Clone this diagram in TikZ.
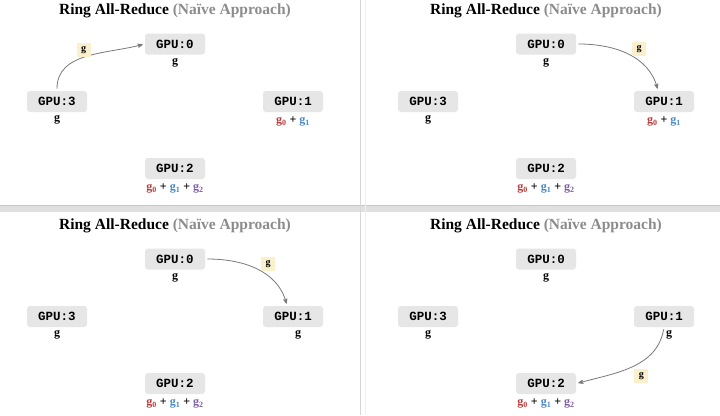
\documentclass[tikz,border=0pt]{standalone}
\usepackage{fontspec}
\setmainfont{Liberation Serif}
\newfontfamily\gpufont{Liberation Mono}
\usetikzlibrary{arrows}
\definecolor{boxgray}{HTML}{E6E6E6}
\definecolor{titlegray}{HTML}{8C8C8C}
\definecolor{arrowgray}{HTML}{7A7A7A}
\definecolor{msgyellow}{HTML}{FBF0CC}
\definecolor{gred}{HTML}{B83A3A}
\definecolor{gblue}{HTML}{4A86C5}
\definecolor{gpurple}{HTML}{7D5BA6}
\newcommand\DX{371}
\newcommand\DY{215}
\newcommand\gA{\textcolor{gred}{g\textsubscript{0}}}
\newcommand\gB{\textcolor{gblue}{g\textsubscript{1}}}
\newcommand\gC{\textcolor{gpurple}{g\textsubscript{2}}}
\newcommand\ringtitle{Ring All-Reduce \textcolor{titlegray}{(Naïve Approach)}}

\begin{document}
\begin{tikzpicture}[x=1pt,y=1pt,>=stealth',line width=0.8pt]

  \tikzstyle{gpu}=[rectangle,rounded corners=3pt,fill=boxgray,minimum width=60pt,
                   minimum height=21pt,inner sep=0pt,font=\gpufont\bfseries\fontsize{12.5}{12}\selectfont]
  \tikzstyle{val}=[anchor=base,inner sep=0pt,font=\bfseries\fontsize{12}{12}\selectfont]
  \tikzstyle{msg}=[fill=msgyellow,minimum width=14pt,minimum height=14pt,inner sep=0pt,
                   font=\bfseries\fontsize{10}{10}\selectfont]
  \tikzstyle{flow}=[->,draw=arrowgray,shorten <=2pt,shorten >=2pt]
  \tikzstyle{head}=[font=\bfseries\fontsize{15.5}{16}\selectfont]

  \fill[white] (0,0) rectangle (720,-415);
  \useasboundingbox (0,0) rectangle (720,-415);
  % dividers
  \fill[black!12] (0,-205) rectangle (720,-212);
  \draw[black!22,line width=0.5pt] (0,-205) -- (720,-205);
  \draw[black!16,line width=0.6pt] (360,0) -- (360,-415);
  \draw[black!6,line width=0.5pt] (365,0) -- (365,-415);

  % top left
  \node[head]  (Ta)  at (175,-11)      {\ringtitle};
  \node[gpu]   (G0a) at (175,-44)      {GPU:0};
  \node[gpu]   (G1a) at (293,-101.5)   {GPU:1};
  \node[gpu]   (G2a) at (175,-168.5)   {GPU:2};
  \node[gpu]   (G3a) at (57,-101.5)    {GPU:3};
  \node[val]   (V0a) at (175,-64)      {g};
  \node[val]   (V1a) at (293,-123.5)   {\gA{} + \gB};
  \node[val]   (V2a) at (175,-190.5)   {\gA{} + \gB{} + \gC};
  \node[val]   (V3a) at (57,-121.5)    {g};

  % top right
  \node[head]  (Tb)  at (175+\DX,-11)    {\ringtitle};
  \node[gpu]   (G0b) at (175+\DX,-44)    {GPU:0};
  \node[gpu]   (G1b) at (293+\DX,-101.5) {GPU:1};
  \node[gpu]   (G2b) at (175+\DX,-168.5) {GPU:2};
  \node[gpu]   (G3b) at (57+\DX,-101.5)  {GPU:3};
  \node[val]   (V0b) at (175+\DX,-64)    {g};
  \node[val]   (V1b) at (293+\DX,-123.5) {\gA{} + \gB};
  \node[val]   (V2b) at (175+\DX,-190.5) {\gA{} + \gB{} + \gC};
  \node[val]   (V3b) at (57+\DX,-121.5)  {g};

  % bottom left
  \node[head]  (Tc)  at (175,-11-\DY)    {\ringtitle};
  \node[gpu]   (G0c) at (175,-44-\DY)    {GPU:0};
  \node[gpu]   (G1c) at (293,-101.5-\DY) {GPU:1};
  \node[gpu]   (G2c) at (175,-168.5-\DY) {GPU:2};
  \node[gpu]   (G3c) at (57,-101.5-\DY)  {GPU:3};
  \node[val]   (V0c) at (175,-64-\DY)    {g};
  \node[val]   (V1c) at (298,-121.5-\DY) {g};
  \node[val]   (V2c) at (175,-190.5-\DY) {\gA{} + \gB{} + \gC};
  \node[val]   (V3c) at (57,-121.5-\DY)  {g};

  % bottom right
  \node[head]  (Td)  at (175+\DX,-11-\DY)    {\ringtitle};
  \node[gpu]   (G0d) at (175+\DX,-44-\DY)    {GPU:0};
  \node[gpu]   (G1d) at (293+\DX,-101.5-\DY) {GPU:1};
  \node[gpu]   (G2d) at (175+\DX,-168.5-\DY) {GPU:2};
  \node[gpu]   (G3d) at (57+\DX,-101.5-\DY)  {GPU:3};
  \node[val]   (V0d) at (175+\DX,-64-\DY)    {g};
  \node[val]   (V1d) at (298+\DX,-121.5-\DY) {g};
  \node[val]   (V2d) at (175+\DX,-190.5-\DY) {\gA{} + \gB{} + \gC};
  \node[val]   (V3d) at (57+\DX,-121.5-\DY)  {g};

  \path
  (G3a.north) edge [flow,out=90,in=195]  node[msg,pos=.47,anchor=south] (Ma) {g} (G0a.west)
  (G0b.east)  edge [flow,out=0,in=105]   node[msg,pos=.55,anchor=south west] (Mb) {g} ([xshift=-6pt]G1b.north)
  (G0c.east)  edge [flow,out=0,in=105]   node[msg,pos=.55,anchor=south west] (Mc) {g} ([xshift=-6pt]G1c.north)
  (G1d.south) edge [flow,out=260,in=15]  node[msg,pos=.4,below=7pt] (Md) {g} (G2d.east)
  ;
\end{tikzpicture}
\end{document}
